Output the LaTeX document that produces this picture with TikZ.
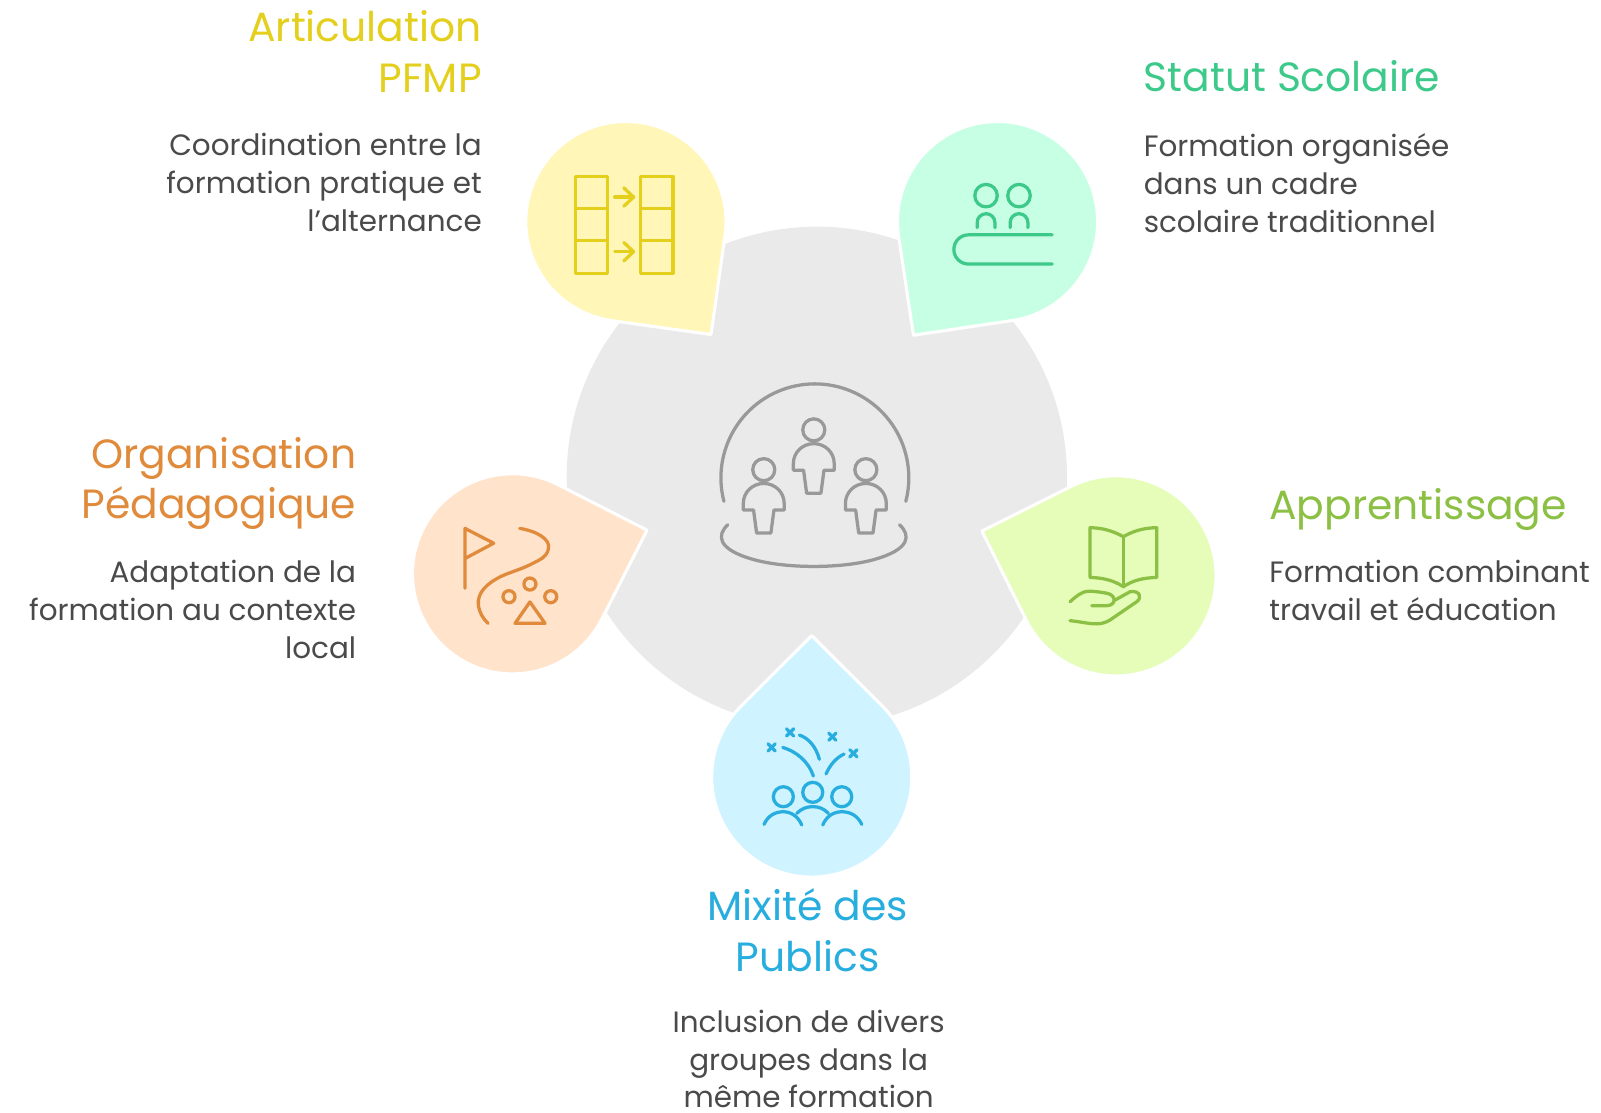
\documentclass[tikz,border=0pt]{standalone}
\usepackage{fontspec}
\setmainfont{Poppins}
\usetikzlibrary{calc}

\definecolor{greyfill}{HTML}{EAEAEA}
\definecolor{greyline}{HTML}{999999}
\definecolor{bodytext}{HTML}{4A4A4A}
\definecolor{yellowfill}{HTML}{FFF6B8}
\definecolor{yellowline}{HTML}{E3CF1C}
\definecolor{greenfill}{HTML}{C7FFE5}
\definecolor{greenline}{HTML}{3DC98A}
\definecolor{orangefill}{HTML}{FFE3CB}
\definecolor{orangeline}{HTML}{E08A3C}
\definecolor{limefill}{HTML}{E5FDB9}
\definecolor{limeline}{HTML}{8CC044}
\definecolor{bluefill}{HTML}{CFF3FF}
\definecolor{blueline}{HTML}{27AEDF}

\begin{document}
\begin{tikzpicture}[x=1pt, y=1pt, yscale=-1]
    \tikzset{
      title/.style={inner sep=0pt, font=\fontsize{40}{49.5}\selectfont},
      body/.style={inner sep=0pt, text=bodytext, font=\fontsize{28.8}{37}\selectfont},
      icon/.style={line width=3.2pt, line cap=round, line join=round}
    };
    \useasboundingbox (0, 0) rectangle (1568, 1090);

    % Hub
    \path (800, 467) coordinate (hub);
    \fill [greyfill] (hub) circle (245);

    % Drops
    \foreach \n/\cx/\cy/\a in {yellow/613/217/53, green/977/217/126.5, orange/502/562/-18, lime/1093/564/198.5, blue/795/761/270} {
      \path (\cx, \cy) coordinate (\n);
      \draw [draw=white, line width=3pt, line join=round, fill=\n fill]
        ($(\n)+(\a:138.5)$) -- ($(\n)+({\a+46}:98)$)
        arc [start angle=\a+46, end angle=\a+314, radius=98] -- cycle;
    }

    % Hub icon
    \begin{scope}[icon, draw=greyline]
      \draw (709, 491) arc [start angle=165.5, end angle=374.5, radius=92];
      \draw (712.7, 514) .. controls (702, 524) and (702, 538) .. (738, 548)
        .. controls (770, 557) and (824, 557) .. (856, 548)
        .. controls (892, 538) and (892, 524) .. (881, 514);
      \foreach \px/\py in {748/460, 797/421, 848/460} {
        \draw (\px, \py) circle (10.8);
        \draw (\px-20, \py+39.5) -- (\px-20, \py+33)
          .. controls (\px-20, \py+22) and (\px-11, \py+13.5) .. (\px, \py+13.5)
          .. controls (\px+11, \py+13.5) and (\px+20, \py+22) .. (\px+20, \py+33)
          -- (\px+20, \py+39.5) -- (\px+10, \py+39.5) -- (\px+7, \py+62)
          -- (\px-7, \py+62) -- (\px-10, \py+39.5) -- cycle;
      }
    \end{scope}

    % Yellow icon
    \begin{scope}[icon, draw=yellowline]
      \foreach \x in {563.5, 627.5} {
        \draw (\x, 172.5) rectangle (\x+31.5, 267.5);
        \draw (\x, 204) -- (\x+31.5, 204);
        \draw (\x, 235.5) -- (\x+31.5, 235.5);
      }
      \foreach \y in {193, 246.5} {
        \draw (602, \y) -- (620.5, \y);
        \draw (611, \y-9) -- (620.5, \y) -- (611, \y+9);
      }
    \end{scope}

    % Green icon
    \begin{scope}[icon, draw=greenline]
      \foreach \x in {965.7, 998} {
        \draw (\x, 191.6) circle (11);
        \draw (\x-8.7, 223) -- (\x-8.7, 218) arc [start angle=180, end angle=360, radius=8.7] -- (\x+8.7, 223);
      }
      \draw (1030.5, 230) -- (948.5, 230) arc [start angle=270, end angle=90, radius=14.3] -- (1030.5, 258.6);
    \end{scope}

    % Orange icon
    \begin{scope}[icon, draw=orangeline]
      \draw (455.4, 576) -- (455.4, 517.5) -- (483.5, 532) -- (455.4, 547);
      \draw (509, 517.5) .. controls (525, 520) and (540, 528) .. (537, 538)
        .. controls (535, 546) and (529, 548) .. (522, 551.6)
        .. controls (510, 558) and (500, 560) .. (489.7, 565)
        .. controls (478, 571) and (467, 580) .. (468.5, 592.5)
        .. controls (469.5, 600) and (473, 606) .. (478, 610.5);
      \draw (519, 572) circle (5.9);
      \draw (498.5, 584.4) circle (5.9);
      \draw (539.4, 584.4) circle (5.9);
      \draw (519, 589.5) -- (533.8, 610.5) -- (504.4, 610.5) -- cycle;
    \end{scope}

    % Lime icon
    \begin{scope}[icon, draw=limeline]
      \draw (1100.2, 525.6) .. controls (1090, 520) and (1080, 517) .. (1067.6, 516.8)
        -- (1067.6, 565.5) .. controls (1080, 566) and (1090, 568) .. (1100.2, 574.6)
        .. controls (1110, 568) and (1120, 566) .. (1132.9, 565.5)
        -- (1132.9, 516.8) .. controls (1120, 517) and (1110, 520) .. (1100.2, 525.6) -- cycle;
      \draw (1100.2, 525.6) -- (1100.2, 574.6);
      \draw (1048, 589.3) .. controls (1054, 584) and (1060, 579) .. (1066, 579)
        .. controls (1072, 579) and (1078, 580) .. (1084, 581)
        .. controls (1094, 583) and (1093, 593) .. (1084, 593.2) -- (1069.2, 593.2);
      \draw (1048, 607.9) .. controls (1056, 608.5) and (1066, 611) .. (1074, 611)
        .. controls (1080, 611) and (1084, 609) .. (1087, 607.3)
        -- (1113.3, 589.3) .. controls (1119, 585) and (1116, 578) .. (1106.8, 579.5) -- (1092, 587.7);
    \end{scope}

    % Blue icon
    \begin{scope}[icon, draw=blueline]
      \draw (796, 776) circle (9.8);
      \draw (767.2, 780.3) circle (9.8);
      \draw (824.4, 780.3) circle (9.8);
      \draw (748.3, 807.4) .. controls (752, 799) and (759, 795) .. (767.2, 795)
        .. controls (775, 795) and (782, 800) .. (785.2, 808);
      \draw (780.3, 796.6) .. controls (785, 792) and (790, 790) .. (796, 790)
        .. controls (802, 790) and (807, 792) .. (811.3, 796.6);
      \draw (805.8, 808) .. controls (809, 800) and (816, 795) .. (824.4, 795)
        .. controls (833, 795) and (840, 799) .. (844, 807.4);
      \draw (766.6, 732) .. controls (780, 736) and (792, 746) .. (796.6, 760);
      \draw (782.9, 719.9) .. controls (792, 723) and (799, 731) .. (802.5, 743.7);
      \draw (809, 758) .. controls (813, 749) and (819, 742) .. (826.7, 738.5);
      \foreach \x/\y in {755.8/732, 773.8/717.3, 815.2/721.5, 835.8/737.8} {
        \draw (\x-3.5, \y-3.5) -- (\x+3.5, \y+3.5);
        \draw (\x-3.5, \y+3.5) -- (\x+3.5, \y-3.5);
      }
    \end{scope}

    % Labels
    \node [title, text=yellowline, anchor=north east, align=right] (articulation) at (472, 10) {Articulation\\PFMP};
    \node [body, anchor=north east, align=right] (articulationtext) at (472, 130.5) {Coordination entre la\\formation pratique et\\l'alternance};

    \node [title, text=greenline, anchor=north west, align=left] (statut) at (1120, 59) {Statut Scolaire};
    \node [body, anchor=north west, align=left] (statuttext) at (1120, 130.5) {Formation organisée\\dans un cadre\\scolaire traditionnel};

    \node [title, text=orangeline, anchor=north east, align=right] (organisation) at (349, 428) {Organisation\\Pédagogique};
    \node [body, anchor=north east, align=right] (organisationtext) at (349, 548.5) {Adaptation de la\\formation au contexte\\local};

    \node [title, text=limeline, anchor=north west, align=left] (apprentissage) at (1243, 478) {Apprentissage};
    \node [body, anchor=north west, align=left] (apprentissagetext) at (1243, 548.5) {Formation combinant\\travail et éducation};

    \node [title, text=blueline, anchor=north, align=center] (mixite) at (791, 870) {Mixité des\\Publics};
    \node [body, anchor=north, align=center] (mixitetext) at (792, 989) {Inclusion de divers\\groupes dans la\\même formation};
\end{tikzpicture}
\end{document}
